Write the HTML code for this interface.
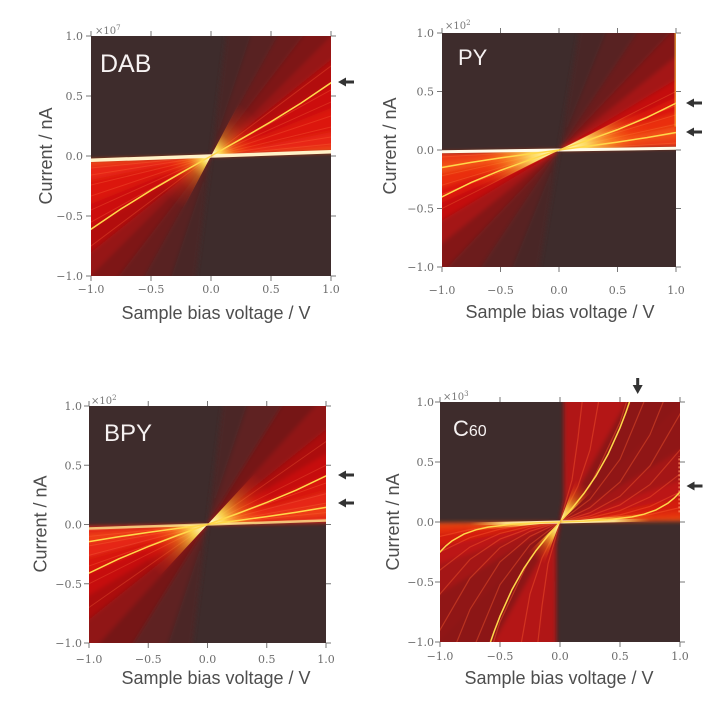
<!DOCTYPE html>
<html><head><meta charset="utf-8"><style>
html,body{margin:0;padding:0;background:#fff;width:720px;height:722px;overflow:hidden;}
svg{display:block;}
.tk{font-family:"DejaVu Serif","Liberation Serif",serif;font-size:11px;fill:#6c6c6c;}
.tt{font-family:"Liberation Sans",sans-serif;font-size:18px;fill:#4e4e4e;}
.sc{font-family:"DejaVu Serif","Liberation Serif",serif;font-size:10px;fill:#777;}
.nm{font-family:"Liberation Sans",sans-serif;fill:#f6f2f2;}
.ns{vector-effect:non-scaling-stroke;fill:none;}
</style></head><body>
<svg width="720" height="722" viewBox="0 0 720 722" xmlns="http://www.w3.org/2000/svg">
<defs>
<filter id="soft" filterUnits="userSpaceOnUse" x="-0.1" y="-0.15" width="1.25" height="1.3"><feGaussianBlur stdDeviation="0.018"/></filter>
<radialGradient id="gDAB" gradientUnits="userSpaceOnUse" cx="0" cy="0" r="0.5">
<stop offset="0" stop-color="#ffffe0"/><stop offset="0.06" stop-color="#fffac0"/><stop offset="0.18" stop-color="#ffe050" stop-opacity="0.9"/><stop offset="0.4" stop-color="#ff9020" stop-opacity="0.5"/><stop offset="0.7" stop-color="#ff4010" stop-opacity="0.2"/><stop offset="1" stop-color="#ff3010" stop-opacity="0"/></radialGradient>
<radialGradient id="gPY" gradientUnits="userSpaceOnUse" cx="0" cy="0" r="0.8">
<stop offset="0" stop-color="#ffffe0"/><stop offset="0.08" stop-color="#fffcc0"/><stop offset="0.3" stop-color="#ffe868" stop-opacity="0.9"/><stop offset="0.55" stop-color="#ffb030" stop-opacity="0.55"/><stop offset="0.8" stop-color="#ff6010" stop-opacity="0.2"/><stop offset="1" stop-color="#ff5010" stop-opacity="0"/></radialGradient>
<radialGradient id="gBPY" gradientUnits="userSpaceOnUse" cx="0" cy="0" r="0.6">
<stop offset="0" stop-color="#ffffe0"/><stop offset="0.07" stop-color="#fffac0"/><stop offset="0.25" stop-color="#ffe050" stop-opacity="0.9"/><stop offset="0.5" stop-color="#ff9a20" stop-opacity="0.5"/><stop offset="0.8" stop-color="#ff4010" stop-opacity="0.18"/><stop offset="1" stop-color="#ff3010" stop-opacity="0"/></radialGradient>
<radialGradient id="gC1" gradientUnits="userSpaceOnUse" cx="0" cy="0" r="0.38">
<stop offset="0" stop-color="#ffffe0"/><stop offset="0.1" stop-color="#fff8a0"/><stop offset="0.35" stop-color="#ffd040" stop-opacity="0.85"/><stop offset="0.65" stop-color="#ff7a14" stop-opacity="0.4"/><stop offset="1" stop-color="#ff3010" stop-opacity="0"/></radialGradient>
<radialGradient id="gC2" gradientUnits="userSpaceOnUse" cx="0" cy="0" r="0.8">
<stop offset="0" stop-color="#ffffe0"/><stop offset="0.1" stop-color="#fffab0"/><stop offset="0.4" stop-color="#ffe060" stop-opacity="0.85"/><stop offset="0.7" stop-color="#ff9020" stop-opacity="0.4"/><stop offset="1" stop-color="#ff5010" stop-opacity="0"/></radialGradient>
<linearGradient id="wC" gradientUnits="userSpaceOnUse" x1="0" y1="0" x2="0.75" y2="0">
<stop offset="0" stop-color="#fff8d0"/><stop offset="0.6" stop-color="#ffe890" stop-opacity="0.9"/><stop offset="1" stop-color="#ffb040" stop-opacity="0"/></linearGradient>
<clipPath id="cDAB"><rect x="91" y="36" width="240" height="240"/></clipPath>
<clipPath id="cPY"><rect x="442" y="33" width="234" height="234"/></clipPath>
<clipPath id="cBPY"><rect x="89" y="406" width="237" height="237"/></clipPath>
<clipPath id="cC60"><rect x="440" y="402" width="240" height="240"/></clipPath>
</defs>

<!-- ================= DAB ================= -->
<rect x="91" y="36" width="240" height="240" fill="#3e2c2c"/>
<g clip-path="url(#cDAB)">
<g transform="translate(211,156) scale(120,-120)">
<g id="dabR">
<g filter="url(#soft)">
<polygon points="0,0 0.131,1.05 0.35,1.05" fill="#4a2727"/>
<polygon points="0,0 0.35,1.05 0.583,1.05" fill="#582323"/>
<polygon points="0,0 0.583,1.05 0.808,1.05" fill="#6a1d1d"/>
<polygon points="0,0 0.808,1.05 1.05,1.05" fill="#7e1717"/>
<polygon points="0,0 1.05,1.05 1.05,0.84" fill="#961313"/>
<polygon points="0,0 1.05,0.84 1.05,0.63" fill="#b21111"/>
<polygon points="0,0 1.05,0.63 1.05,0.42" fill="#cc1010"/>
<polygon points="0,0 1.05,0.42 1.05,0.21" fill="#dc1610"/>
<polygon points="0,0 1.05,0.21 1.05,0.084" fill="#e82612"/>
<polygon points="0,0 1.05,0.084 1.05,0.0315" fill="#f04414"/>
</g>
<path class="ns" stroke="#ff7040" stroke-opacity="0.3" stroke-width="1" d="M0,0L1.05,0.105M0,0L1.05,0.166M0,0L1.05,0.254M0,0L1.05,0.35M0,0L1.05,0.4725M0,0L1.05,0.578M0,0L1.05,0.7875"/>
<polygon points="0,0 0.553,1.05 1.05,1.05 1.05,0.126" fill="url(#gDAB)"/>
<line x1="0" y1="0" x2="1.05" y2="0.0368" stroke="#fff2c8" stroke-width="3.5" class="ns"/>
<polyline points="0,0 0.25,0.141 0.5,0.286 0.75,0.441 1,0.61 1.05,0.645" stroke="#ffd84a" stroke-width="1.5" class="ns"/>
</g>
<use href="#dabR" transform="rotate(180)"/>
</g>
</g>

<!-- ================= PY ================= -->
<rect x="442" y="33" width="234" height="234" fill="#3e2c2c"/>
<g clip-path="url(#cPY)">
<g transform="translate(559,150) scale(117,-117)">
<g id="pyR">
<g filter="url(#soft)">
<polygon points="0,0 0.175,1.05 0.42,1.05" fill="#4a2727"/>
<polygon points="0,0 0.42,1.05 0.7,1.05" fill="#592323"/>
<polygon points="0,0 0.7,1.05 1.0,1.05" fill="#6c1d1d"/>
<polygon points="0,0 1.0,1.05 1.05,1.05 1.05,0.84" fill="#841717"/>
<polygon points="0,0 1.05,0.84 1.05,0.63" fill="#a41212"/>
<polygon points="0,0 1.05,0.63 1.05,0.4725" fill="#c41010"/>
<polygon points="0,0 1.05,0.4725 1.05,0.336" fill="#dc1810"/>
<polygon points="0,0 1.05,0.336 1.05,0.21" fill="#ea2e10"/>
<polygon points="0,0 1.05,0.21 1.05,0.105" fill="#f25016"/>
<polygon points="0,0 1.05,0.105 1.05,0.021" fill="#ee3a12"/>
</g>
<path class="ns" stroke="#ff8040" stroke-opacity="0.3" stroke-width="1" d="M0,0L1.05,0.063M0,0L1.05,0.147M0,0L1.05,0.231M0,0L1.05,0.315M0,0L1.05,0.399M0,0L1.05,0.525"/>
<polygon points="0,0 1.05,0.525 1.05,0.026" fill="url(#gPY)"/>
<line x1="0" y1="0" x2="1.05" y2="0.0158" stroke="#fffbe8" stroke-width="3" class="ns"/>
<polyline points="0,0 0.25,0.0836 0.5,0.174 0.75,0.277 1,0.4 1.05,0.427" stroke="#ffd84a" stroke-width="1.5" class="ns"/>
<polyline points="0,0 0.25,0.0328 0.5,0.0675 0.75,0.1059 1,0.15 1.05,0.16" stroke="#ffd84a" stroke-width="1.5" class="ns"/>
</g>
<use href="#pyR" transform="rotate(180)"/>
<line x1="0.993" y1="0.2" x2="0.993" y2="1.02" stroke="#ffc040" stroke-opacity="0.8" stroke-width="1.2" class="ns"/>
</g>
</g>

<!-- ================= BPY ================= -->
<rect x="89" y="406" width="237" height="237" fill="#3e2c2c"/>
<g clip-path="url(#cBPY)">
<g transform="translate(207.5,524.5) scale(118.5,-118.5)">
<g id="bpyR">
<g filter="url(#soft)">
<polygon points="0,0 0.131,1.05 0.35,1.05" fill="#4c2727"/>
<polygon points="0,0 0.35,1.05 0.656,1.05" fill="#5e2121"/>
<polygon points="0,0 0.656,1.05 0.955,1.05" fill="#761919"/>
<polygon points="0,0 0.955,1.05 1.05,1.05 1.05,0.84" fill="#901414"/>
<polygon points="0,0 1.05,0.84 1.05,0.63" fill="#ac1111"/>
<polygon points="0,0 1.05,0.63 1.05,0.441" fill="#c61010"/>
<polygon points="0,0 1.05,0.441 1.05,0.294" fill="#d81610"/>
<polygon points="0,0 1.05,0.294 1.05,0.168" fill="#e62612"/>
<polygon points="0,0 1.05,0.168 1.05,0.0735" fill="#ee3c14"/>
<polygon points="0,0 1.05,0.0735 1.05,0.01575" fill="#e42212"/>
</g>
<path class="ns" stroke="#ff7040" stroke-opacity="0.3" stroke-width="1" d="M0,0L1.05,0.0525M0,0L1.05,0.105M0,0L1.05,0.189M0,0L1.05,0.273M0,0L1.05,0.3675M0,0L1.05,0.525M0,0L1.05,0.735"/>
<polygon points="0,0 0.972,1.05 1.05,1.05 1.05,0.026" fill="url(#gBPY)"/>
<line x1="0" y1="0" x2="1.05" y2="0.035" stroke="#ffe890" stroke-opacity="0.8" stroke-width="2.5" class="ns"/>
<polyline points="0,0 0.25,0.0908 0.5,0.186 0.75,0.291 1,0.41 1.05,0.436" stroke="#ffd84a" stroke-width="1.5" class="ns"/>
<polyline points="0,0 0.25,0.0327 0.5,0.0669 0.75,0.1038 1,0.145 1.05,0.154" stroke="#ffd84a" stroke-width="1.5" class="ns"/>
</g>
<use href="#bpyR" transform="rotate(180)"/>
</g>
</g>

<!-- ================= C60 ================= -->
<rect x="440" y="402" width="240" height="240" fill="#3e2c2c"/>
<g clip-path="url(#cC60)">
<g transform="translate(560,522) scale(120,-120)">
<g id="c60R">
<g filter="url(#soft)">
<polygon points="0,0 0.03,0.06 0.03,1.05 0.175,1.05" fill="#b01212"/>
<polygon points="0,0 0.175,1.05 0.583,1.05" fill="#b41414"/>
<polygon points="0,0 0.583,1.05 1.05,1.05" fill="#8c1616"/>
<polygon points="0,0 1.05,1.05 1.05,0.63" fill="#901414"/>
<polygon points="0,0 1.05,0.63 1.05,0.3675" fill="#a41212"/>
<polygon points="0,0 1.05,0.3675 1.05,0.21" fill="#bc1414"/>
<polygon points="0,0 1.05,0.21 1.05,0.105" fill="#d41a10"/>
<polygon points="0,0 1.05,0.105 1.05,0.042" fill="#e42e10"/>
<polygon points="0,0 1.05,0.042 1.05,0.0063" fill="#ec4a14"/>
</g>
<g stroke="#ff6030" stroke-opacity="0.4" stroke-width="1.2">
<polyline class="ns" points="0,0 0.25,0.0103 0.5,0.0285 0.75,0.0624 1,0.12 1.05,0.135"/>
<polyline class="ns" points="0,0 0.25,0.0215 0.5,0.0594 0.75,0.130 1,0.25 1.05,0.28"/>
<polyline class="ns" points="0,0 0.25,0.0344 0.5,0.095 0.75,0.208 1,0.4 1.05,0.45"/>
<polyline class="ns" points="0,0 0.25,0.0515 0.5,0.1425 0.75,0.312 1,0.6 1.05,0.675"/>
<polyline class="ns" points="0,0 0.25,0.0773 0.5,0.214 0.75,0.468 1,0.9 1.05,1.0"/>
<polyline class="ns" points="0,0 0.25,0.120 0.5,0.3325 0.75,0.728 0.88,1.05"/>
<polyline class="ns" points="0,0 0.25,0.189 0.5,0.5225 0.72,1.05"/>
<polyline class="ns" points="0,0 0.25,0.30 0.5,0.831 0.57,1.05"/>
<polyline class="ns" points="0,0 0.15,0.3 0.25,0.6 0.33,1.05"/>
<polyline class="ns" points="0,0 0.1,0.35 0.15,0.7 0.19,1.05"/>
</g>
<polygon points="0,0 0.393,1.05 1.05,1.05 1.05,0.9975" fill="url(#gC1)"/>
<polygon points="0,0 1.05,0.105 1.05,0.0042" fill="url(#gC2)"/>
<line x1="0" y1="0" x2="0.75" y2="0.016" stroke="url(#wC)" stroke-width="3" class="ns"/>
<polyline points="0,0 0.1,0.1138 0.2,0.2384 0.3,0.3846 0.4,0.5632 0.5,0.785 0.55,0.9155 0.6,1.0608" stroke="#ffd84a" stroke-width="1.5" class="ns"/>
<polyline points="0,0 0.2,0.0068 0.4,0.0186 0.6,0.043 0.7,0.0652 0.8,0.1004 0.9,0.1573 0.95,0.198 1,0.25 1.05,0.31" stroke="#ffd84a" stroke-width="1.5" class="ns"/>
</g>
<use href="#c60R" transform="rotate(180)"/>
<line x1="0.993" y1="0.08" x2="0.993" y2="0.55" stroke="#ff9060" stroke-opacity="0.8" stroke-width="1.5" stroke-dasharray="2,2" class="ns"/>
</g>
</g>

<!-- ================= ticks ================= -->
<g stroke="#777" stroke-width="1" fill="none">
<path d="M91,36v-5M151,36v-5M211,36v-5M271,36v-5M331,36v-5M91,276v5M151,276v5M211,276v5M271,276v5M331,276v5M91,36h-5M91,96h-5M91,156h-5M91,216h-5M91,276h-5M331,36h5M331,96h5M331,156h5M331,216h5M331,276h5"/>
<path d="M442,33v-5M500.5,33v-5M559,33v-5M617.5,33v-5M676,33v-5M442,267v5M500.5,267v5M559,267v5M617.5,267v5M676,267v5M442,33h-5M442,91.5h-5M442,150h-5M442,208.5h-5M442,267h-5M676,33h5M676,91.5h5M676,150h5M676,208.5h5M676,267h5"/>
<path d="M89,406v-5M148.25,406v-5M207.5,406v-5M266.75,406v-5M326,406v-5M89,643v5M148.25,643v5M207.5,643v5M266.75,643v5M326,643v5M89,406h-5M89,465.25h-5M89,524.5h-5M89,583.75h-5M89,643h-5M326,406h5M326,465.25h5M326,524.5h5M326,583.75h5M326,643h5"/>
<path d="M440,402v-5M500,402v-5M560,402v-5M620,402v-5M680,402v-5M440,642v5M500,642v5M560,642v5M620,642v5M680,642v5M440,402h-5M440,462h-5M440,522h-5M440,582h-5M440,642h-5M680,402h5M680,462h5M680,522h5M680,582h5M680,642h5"/>
</g>

<!-- tick labels -->
<g class="tk" text-anchor="middle">
<text x="91" y="293">−1.0</text><text x="151" y="293">−0.5</text><text x="211" y="293">0.0</text><text x="271" y="293">0.5</text><text x="331" y="293">1.0</text>
<text x="442" y="294">−1.0</text><text x="500.5" y="294">−0.5</text><text x="559" y="294">0.0</text><text x="617.5" y="294">0.5</text><text x="676" y="294">1.0</text>
<text x="89" y="663">−1.0</text><text x="148.25" y="663">−0.5</text><text x="207.5" y="663">0.0</text><text x="266.75" y="663">0.5</text><text x="326" y="663">1.0</text>
<text x="440" y="660">−1.0</text><text x="500" y="660">−0.5</text><text x="560" y="660">0.0</text><text x="620" y="660">0.5</text><text x="680" y="660">1.0</text>
</g>
<g class="tk" text-anchor="end">
<text x="83" y="40">1.0</text><text x="83" y="100">0.5</text><text x="83" y="160">0.0</text><text x="83" y="220">−0.5</text><text x="83" y="280">−1.0</text>
<text x="434" y="37">1.0</text><text x="434" y="95.5">0.5</text><text x="434" y="154">0.0</text><text x="434" y="212.5">−0.5</text><text x="434" y="271">−1.0</text>
<text x="82" y="410">1.0</text><text x="82" y="469.25">0.5</text><text x="82" y="528.5">0.0</text><text x="82" y="587.75">−0.5</text><text x="82" y="647">−1.0</text>
<text x="434" y="406">1.0</text><text x="434" y="466">0.5</text><text x="434" y="526">0.0</text><text x="434" y="586">−0.5</text><text x="434" y="646">−1.0</text>
</g>

<!-- scale factors -->
<text class="sc" x="95" y="34">×10<tspan dy="-4" font-size="7">7</tspan></text>
<text class="sc" x="445" y="29">×10<tspan dy="-4" font-size="7">2</tspan></text>
<text class="sc" x="91" y="404">×10<tspan dy="-4" font-size="7">2</tspan></text>
<text class="sc" x="443" y="400">×10<tspan dy="-4" font-size="7">3</tspan></text>

<!-- axis titles -->
<g class="tt" text-anchor="middle">
<text x="216" y="319">Sample bias voltage / V</text>
<text x="560" y="318">Sample bias voltage / V</text>
<text x="216" y="684">Sample bias voltage / V</text>
<text x="559" y="684">Sample bias voltage / V</text>
<text transform="translate(52,156) rotate(-90)">Current / nA</text>
<text transform="translate(396,146) rotate(-90)">Current / nA</text>
<text transform="translate(46.5,524) rotate(-90)">Current / nA</text>
<text transform="translate(399,522) rotate(-90)">Current / nA</text>
</g>

<!-- panel names -->
<text class="nm" x="100" y="72" font-size="25">DAB</text>
<text class="nm" x="458" y="65" font-size="22">PY</text>
<text class="nm" x="104" y="441" font-size="24">BPY</text>
<text class="nm" x="453" y="436" font-size="22">C<tspan font-size="16">60</tspan></text>

<!-- arrows -->
<g fill="#333">
<path d="M338,82l8,-4.5v3h8v3h-8v3z"/>
<path d="M686,103l8,-4.5v3h8v3h-8v3z"/>
<path d="M686,132l8,-4.5v3h8v3h-8v3z"/>
<path d="M338,475l8,-4.5v3h8v3h-8v3z"/>
<path d="M338,503l8,-4.5v3h8v3h-8v3z"/>
<path d="M686.5,486l8,-4.5v3h8v3h-8v3z"/>
<path d="M637.7,394l-5,-9h3.5v-7h3v7h3.5z"/>
</g>
</svg>
</body></html>
